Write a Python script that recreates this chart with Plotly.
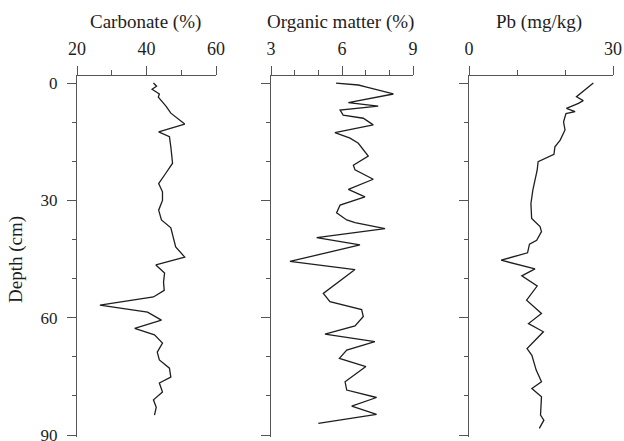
import plotly.graph_objects as go

# Carbonate (%) profile
carb_depth = [0, 0.8, 1.6, 2.8, 3.6, 5.9, 7.7, 10.5, 12.5, 13.7, 16.3, 20.5, 23, 25.7, 27.8, 30,
              32.5, 35, 37, 41.9, 44.5, 46.5, 48.6, 50.9, 53, 54.7, 56.8, 58.6, 60.6, 62.7, 64.4,
              66.5, 68.8, 70.8, 72.9, 75.2, 76.7, 79, 81, 82.9, 84.9]
carb_val = [42, 42.9, 41.6, 43.7, 43.4, 45.6, 47, 51, 43.5, 46.6, 47, 47.5, 45.6, 43.5, 44.6, 44.6,
            43.5, 44.3, 47, 48.4, 51, 42.7, 45.2, 44.9, 45.1, 42, 26.6, 40.3, 44.3, 36.6, 42.3,
            44.6, 43.1, 43.7, 46.6, 47, 43.7, 44.6, 42, 42.8, 42.3]

# Organic matter (%) profile
om_depth = [0, 0.5, 1.0, 2.8, 5, 5.9, 6.9, 8.2, 9, 10.7, 12.7, 14.1, 15.4, 18.7, 21, 22.2, 24.6,
            27.2, 29.1, 31.2, 33.2, 35, 35.7, 37.2, 39.5, 41.4, 45.6, 47.7, 53.8, 55.9, 57.9, 59.7,
            62.1, 64.2, 66.1, 68.3, 70.4, 72.5, 76.4, 78.5, 80.4, 82.6, 84.7, 87]
om_val = [5.75, 6.69, 7.0, 8.17, 6.27, 7.53, 5.92, 6.05, 6.9, 7.32, 5.7, 6.34, 6.69, 7.11, 6.48,
          6.55, 7.32, 6.27, 6.97, 5.92, 5.77, 6.2, 6.55, 7.82, 4.93, 6.76, 3.8, 6.55, 5.21, 5.49,
          6.83, 6.9, 6.55, 5.28, 7.39, 6.2, 5.89, 7.01, 6.13, 6.2, 7.46, 6.41, 7.46, 5.0]

# Pb (mg/kg) profile
pb_depth = [0, 1.4, 3.5, 4.5, 5.2, 6.5, 7.3, 7.8, 9.9, 12, 14.6, 16.3, 18.2, 20.1, 22.3, 24.8,
            27.4, 30.8, 34.6, 36.7, 38, 40.2, 41.2, 43.4, 45.3, 47.5, 49.3, 51.9, 55.5, 58.9, 61.5,
            63.6, 67.9, 69.6, 73.4, 76.4, 78.1, 80.2, 84.9, 86.2, 88.3]
pb_val = [25.9, 24.5, 22.4, 23.8, 22.8, 20.3, 22.1, 20.2, 19.7, 20, 19, 17.9, 17.7, 14.4, 14.2,
          13.75, 13.3, 12.9, 13.05, 14.8, 15.1, 14.1, 12.6, 12.2, 6.7, 13.75, 11.0, 14.2, 12, 15.1,
          12.4, 15.5, 12.1, 13.1, 14, 15.1, 13.1, 15.1, 14.9, 15.6, 14.65]

depth_ticks = [0, 30, 60, 90]

W, H = 624, 441
FONT = "Liberation Serif, Times New Roman, serif"
INK = "#1e1e1e"
AX = "#555555"

fig = go.Figure()
for i, (xv, yv) in enumerate([(carb_val, carb_depth), (om_val, om_depth), (pb_val, pb_depth)]):
    sfx = "" if i == 0 else str(i + 1)
    fig.add_trace(go.Scatter(x=xv, y=yv, mode="lines", xaxis="x" + sfx, yaxis="y" + sfx,
                             line=dict(color=INK, width=1.3), showlegend=False))

ytop, ybot = 76, 437
ydom = [1 - ybot / H, 1 - ytop / H]
yrange = [90.5, -1.8]

def xax(px0, px1, rng, dtick, tick0, mdt, anchor):
    return dict(domain=[px0 / W, px1 / W], range=rng, side="top", anchor=anchor,
                automargin=False,
                showline=True, linecolor=AX, linewidth=1, ticks="outside", ticklen=9,
                tickcolor=AX, tickwidth=1, dtick=dtick, tick0=tick0, showgrid=False,
                zeroline=False, ticklabelstandoff=4, ticklabeloverflow="allow",
                tickfont=dict(family=FONT, size=18, color=INK),
                minor=dict(dtick=mdt, ticks="outside", ticklen=5, tickcolor=AX, tickwidth=1,
                           showgrid=False))

def yax(xa, labels):
    return dict(domain=ydom, range=yrange, anchor=xa, automargin=False,
                showline=True, linecolor=AX, linewidth=1,
                ticks="outside", ticklen=9, tickcolor=AX, tickwidth=1, tickvals=depth_ticks,
                showticklabels=labels, showgrid=False, zeroline=False, ticklabelstandoff=6,
                ticklabeloverflow="allow",
                tickfont=dict(family=FONT, size=17, color=INK),
                minor=dict(dtick=10, ticks="outside", ticklen=4, tickcolor=AX, tickwidth=1,
                           showgrid=False))

fig.update_layout(
    width=W, height=H, margin=dict(l=0, r=0, t=0, b=0),
    paper_bgcolor="white", plot_bgcolor="white",
    font=dict(family=FONT, color=INK),
    xaxis=xax(77, 216, [20, 60], 20, 20, 10, "y"),
    xaxis2=xax(271, 413, [3, 9], 3, 3, 1, "y2"),
    xaxis3=xax(469, 613, [0, 30], 30, 0, 10, "y3"),
    yaxis=yax("x", True), yaxis2=yax("x2", False), yaxis3=yax("x3", False),
    annotations=[
        dict(text="Carbonate (%)", x=145 / W, y=1 - 22 / H, xref="paper", yref="paper",
             xanchor="center", yanchor="middle",
             showarrow=False, font=dict(family=FONT, size=19, color=INK)),
        dict(text="Organic matter (%)", x=341 / W, y=1 - 22 / H, xref="paper", yref="paper",
             xanchor="center", yanchor="middle",
             showarrow=False, font=dict(family=FONT, size=19, color=INK)),
        dict(text="Pb (mg/kg)", x=539 / W, y=1 - 22 / H, xref="paper", yref="paper",
             xanchor="center", yanchor="middle",
             showarrow=False, font=dict(family=FONT, size=19, color=INK)),
        dict(text="Depth (cm)", x=16 / W, y=1 - 260 / H, xref="paper", yref="paper",
             xanchor="center", yanchor="middle",
             showarrow=False, textangle=-90, font=dict(family=FONT, size=19, color=INK)),
    ],
)

fig.write_html("out.html", config={"displayModeBar": False},
               post_script="document.body.style.margin='0';"
               "document.body.style.overflow='hidden';")
